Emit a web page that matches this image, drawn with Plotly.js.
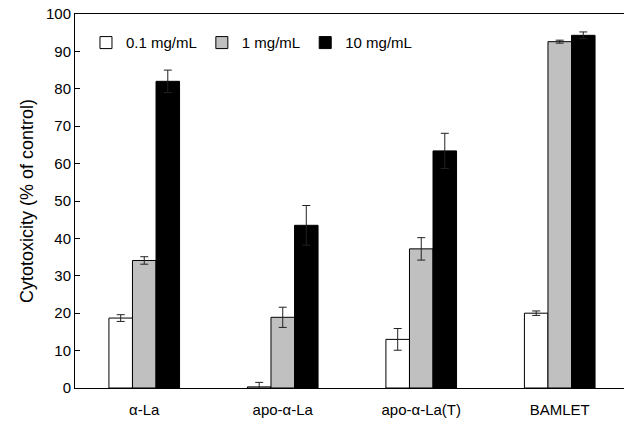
<!DOCTYPE html>
<html>
<head>
<meta charset="utf-8">
<script src="https://cdn.plot.ly/plotly-3.0.1.min.js"></script>
<style>html,body{margin:0;padding:0;background:#fff;}</style>
</head>
<body>
<div id="chart" style="width:624px;height:424px;"></div>
<script>
const categories = ['α-La', 'apo-α-La', 'apo-α-La(T)', 'BAMLET'];
const seriesNames = ['0.1 mg/mL', '1 mg/mL', '10 mg/mL'];
const low = [18.7, 0.3, 13.0, 20.0];
const lowErr = [0.9, 1.2, 2.9, 0.6];
const mid = [34.1, 18.9, 37.2, 92.6];
const midErr = [1.0, 2.7, 3.0, 0.4];
const high = [82.0, 43.5, 63.4, 94.3];
const highErr = [3.0, 5.3, 4.7, 0.9];
const yTicks = [0, 10, 20, 30, 40, 50, 60, 70, 80, 90, 100];

const colors = ['#ffffff', '#c0c0c0', '#000000'];
const vals = [low, mid, high];
const errs = [lowErr, midErr, highErr];

const traces = vals.map((v, i) => ({
  type: 'bar',
  name: seriesNames[i],
  x: categories,
  y: v,
  marker: {color: colors[i], line: {color: '#000', width: 1}},
  error_y: {type: 'data', array: errs[i], visible: true, color: '#222', thickness: 1, width: 4}
}));

const font = {family: 'Liberation Sans, Arial, sans-serif', color: '#000', size: 15};

const layout = {
  width: 624, height: 424,
  margin: {l: 75, r: 0, t: 14, b: 36},
  paper_bgcolor: '#fff', plot_bgcolor: '#fff',
  font: font,
  barmode: 'group',
  bargap: 0.49,
  bargroupgap: 0,
  showlegend: true,
  legend: {orientation: 'h', x: 0.02, y: 0.967, xanchor: 'left', yanchor: 'top',
           font: {size: 15}, bgcolor: 'rgba(0,0,0,0)', itemwidth: 30, traceorder: 'normal'},
  xaxis: {
    type: 'category', range: [-0.5, 3.464],
    showline: true, linecolor: '#000', linewidth: 1, mirror: true,
    ticks: '', showgrid: false, zeroline: false,
    tickfont: {size: 15}, ticklabelstandoff: 8
  },
  yaxis: {
    range: [0, 100], tickvals: yTicks, ticktext: yTicks.map(String),
    showline: true, linecolor: '#000', linewidth: 1,
    ticks: 'inside', ticklen: 5, tickcolor: '#000',
    showgrid: false, zeroline: false,
    tickfont: {size: 15},
    title: {text: 'Cytotoxicity (% of control)', font: {size: 18}, standoff: 7}
  }
};

Plotly.newPlot('chart', traces, layout, {staticPlot: true, displayModeBar: false});
</script>
</body>
</html>
